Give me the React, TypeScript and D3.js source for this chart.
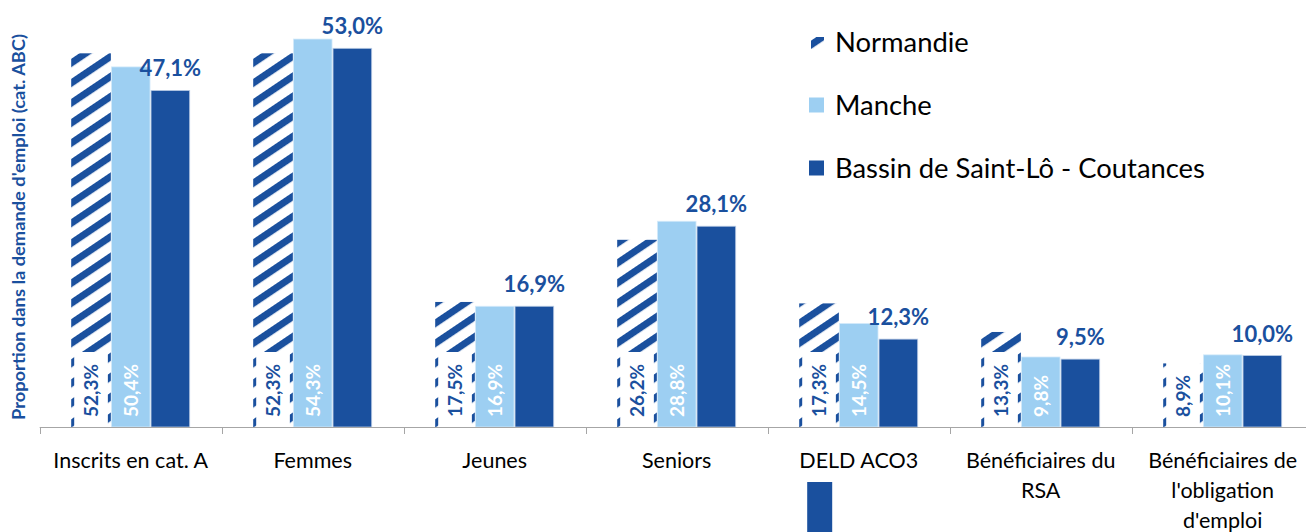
import * as d3 from "d3";

const categories = [
  "Inscrits en cat. A",
  "Femmes",
  "Jeunes",
  "Seniors",
  "DELD ACO3",
  "Bénéficiaires du RSA",
  "Bénéficiaires de l'obligation d'emploi",
];
const categoryLines = [
  ["Inscrits en cat. A"],
  ["Femmes"],
  ["Jeunes"],
  ["Seniors"],
  ["DELD ACO3"],
  ["Bénéficiaires du", "RSA"],
  ["Bénéficiaires de", "l'obligation", "d'emploi"],
];
const seriesNames = ["Normandie", "Manche", "Bassin de Saint-Lô - Coutances"];
const normandie = [52.3, 52.3, 17.5, 26.2, 17.3, 13.3, 8.9];
const manche = [50.4, 54.3, 16.9, 28.8, 14.5, 9.8, 10.1];
const bassin = [47.1, 53.0, 16.9, 28.1, 12.3, 9.5, 10.0];

const W = 1306;
const H = 532;
const DARK = "#1a509e";
const LIGHT = "#9dcff2";
const FONT = "Lato, 'Open Sans', sans-serif";

const fmt = (v: number) => d3.format(".1f")(v).replace(".", ",") + "%";

export default function App() {
  const step = 182;
  const x0 = 39.7;
  const x = d3
    .scaleBand<string>()
    .domain(categories)
    .range([x0, x0 + step * categories.length])
    .padding(0);
  const xs = d3
    .scaleBand<string>()
    .domain(seriesNames)
    .range([31.5, step - 31.5])
    .padding(0);
  const baseY = 427;
  const y = d3.scaleLinear().domain([0, 60]).range([baseY, -1.7]);
  const bw = xs.bandwidth();

  const rows = categories.map((c, i) => ({
    cat: c,
    lines: categoryLines[i],
    vals: [normandie[i], manche[i], bassin[i]],
  }));

  return (
    <svg
      width={W}
      height={H}
      style={{ position: "absolute", left: 0, top: 0, background: "#fff" }}
      fontFamily={FONT}
    >
      <defs>
        <pattern
          id="hatch"
          patternUnits="userSpaceOnUse"
          width={10}
          height={16.6}
          patternTransform="rotate(-34)"
        >
          <rect width={10} height={16.6} fill="#fff" />
          <rect y={0} width={10} height={7} fill={DARK} />
        </pattern>
      </defs>

      {/* y axis title */}
      <text
        transform={`translate(25,227) rotate(-90)`}
        textAnchor="middle"
        fontSize={16.5}
        fontWeight="bold"
        fill={DARK}
        textLength={386}
        lengthAdjust="spacingAndGlyphs"
      >
        Proportion dans la demande d'emploi (cat. ABC)
      </text>

      {rows.map((r) => {
        const gx = x(r.cat)!;
        return (
          <g key={r.cat} transform={`translate(${gx},0)`}>
            {/* Normandie hatched */}
            <rect
              x={xs(seriesNames[0])!}
              y={y(r.vals[0])}
              width={bw}
              height={baseY - y(r.vals[0])}
              fill="url(#hatch)"
            />
            <rect
              x={xs(seriesNames[0])! + 3}
              y={352}
              width={bw - 6}
              height={baseY - 352}
              fill="#fff"
            />
            {/* Manche */}
            <rect
              x={xs(seriesNames[1])! + 0.5}
              y={y(r.vals[1])}
              width={bw - 1}
              height={baseY - y(r.vals[1])}
              fill={LIGHT}
              stroke="#d6ebfa"
              strokeWidth={0.8}
            />
            {/* Bassin */}
            <rect
              x={xs(seriesNames[2])! + 0.5}
              y={y(r.vals[2])}
              width={bw - 1}
              height={baseY - y(r.vals[2])}
              fill={DARK}
              stroke="#b9cbe4"
              strokeWidth={0.8}
            />
            {/* rotated labels */}
            <text
              transform={`translate(${xs(seriesNames[0])! + bw / 2 + 7},${baseY - 10}) rotate(-90)`}
              fontSize={19}
              fontWeight="bold"
              fill={DARK}
            >
              {fmt(r.vals[0])}
            </text>
            <text
              transform={`translate(${xs(seriesNames[1])! + bw / 2 + 7},${baseY - 10}) rotate(-90)`}
              fontSize={19}
              fontWeight="bold"
              fill="#fff"
            >
              {fmt(r.vals[1])}
            </text>
            <text
              x={xs(seriesNames[2])! + bw / 2}
              y={y(r.vals[2]) - 14}
              textAnchor="middle"
              fontSize={22}
              fontWeight="bold"
              fill={DARK}
            >
              {fmt(r.vals[2])}
            </text>
            {/* category label */}
            <text textAnchor="middle" fontSize={21.5} fill="#000">
              {r.lines.map((l, j) => (
                <tspan key={j} x={step / 2} y={468 + j * 30}>
                  {l}
                </tspan>
              ))}
            </text>
          </g>
        );
      })}

      {/* axis */}
      <line x1={x0} x2={W} y1={baseY + 0.5} y2={baseY + 0.5} stroke="#a6a6a6" />
      {categories.map((c) => (
        <line
          key={c}
          x1={Math.round(x(c)!) + 0.5}
          x2={Math.round(x(c)!) + 0.5}
          y1={baseY}
          y2={baseY + 7}
          stroke="#a6a6a6"
        />
      ))}

      {/* stray mark below DELD ACO3 */}
      <rect
        x={x("DELD ACO3")! + xs(seriesNames[0])! + 8}
        y={482}
        width={25}
        height={H - 482}
        fill={DARK}
      />

      {/* legend */}
      {seriesNames.map((s, i) => (
        <g key={s} transform={`translate(809,${42 + i * 63})`}>
          {i === 0 ? (
            <path d="M2,-5 L15,-5 L15,7 L2,7 Z" fill="url(#hatch)" />
          ) : (
            <rect x={0} y={-7.5} width={15} height={15} fill={i === 1 ? LIGHT : DARK} />
          )}
          <text x={26} y={9.5} fontSize={27.4} fill="#000">
            {s}
          </text>
        </g>
      ))}
    </svg>
  );
}
